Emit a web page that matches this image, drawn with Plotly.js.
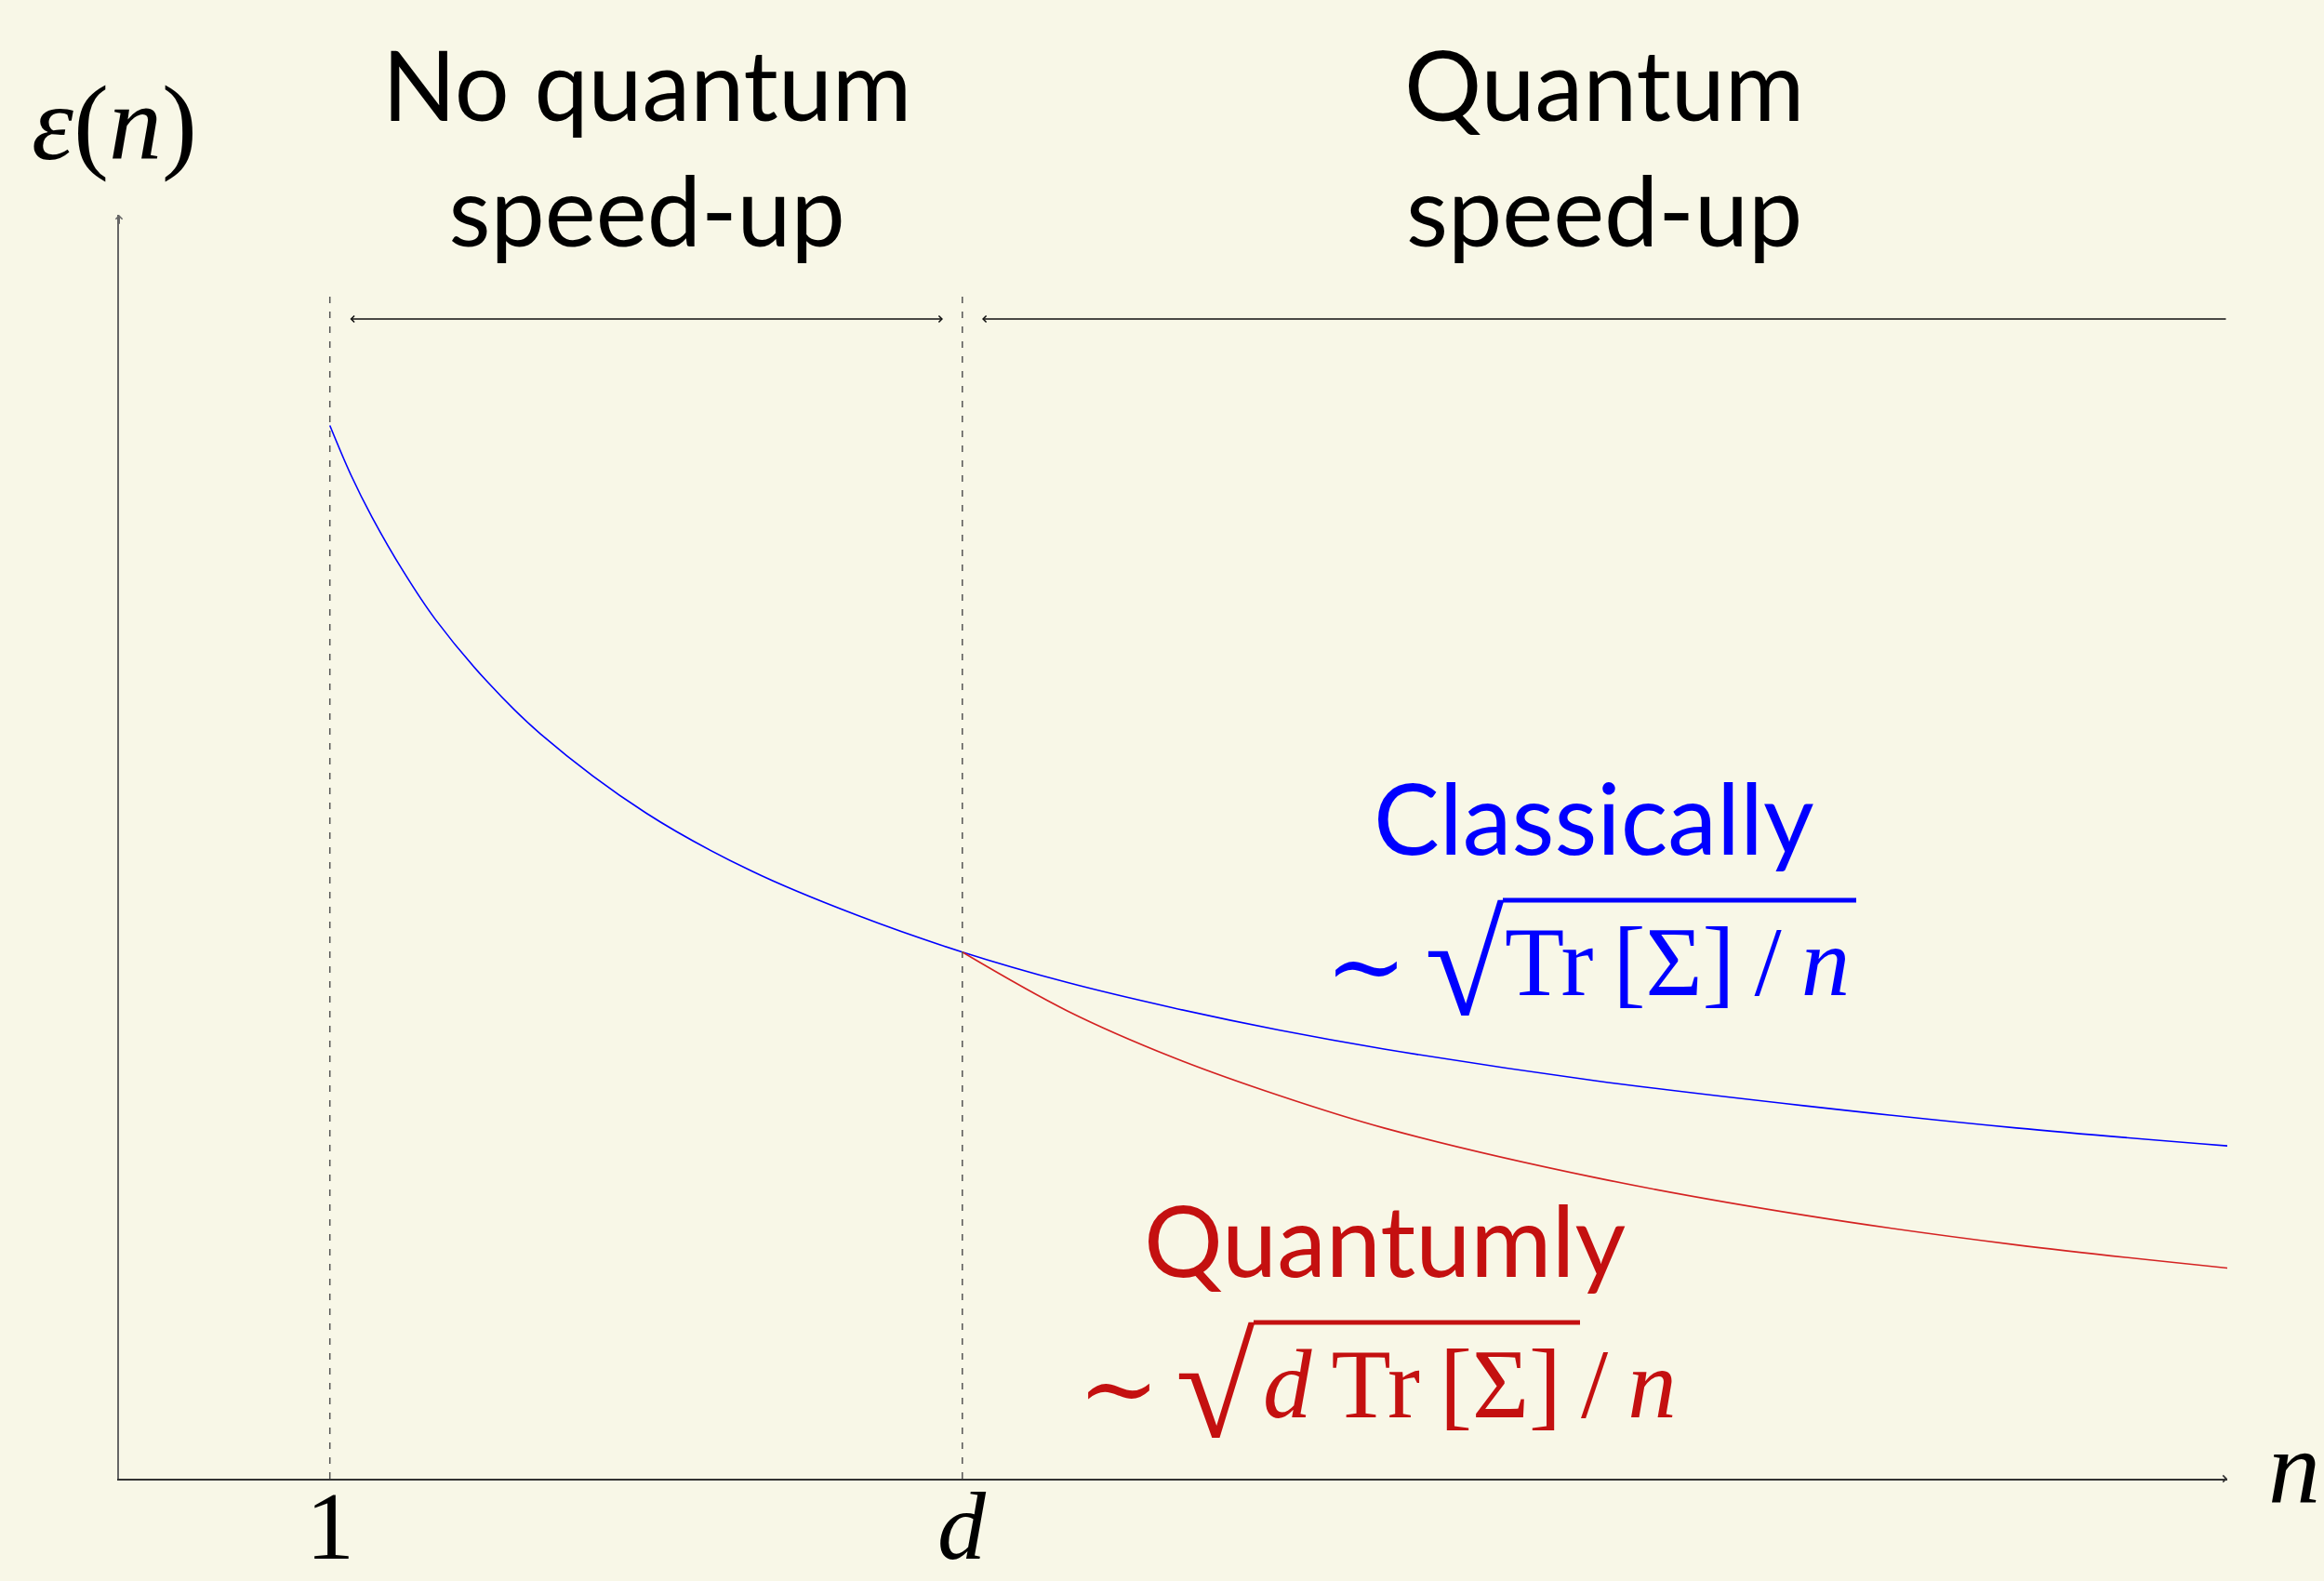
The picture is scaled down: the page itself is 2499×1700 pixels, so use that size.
<!DOCTYPE html>
<html>
<head>
<meta charset="utf-8">
<script src="https://cdn.plot.ly/plotly-3.0.1.min.js"></script>
<style>
  html, body { margin: 0; padding: 0; background: #f8f7e7; }
  #chart { width: 2499px; height: 1700px; }
</style>
</head>
<body>
<div id="chart"></div>
<script>
// Sample size n and the error epsilon(n) of the two estimators
const nClassical = [1, 1.1, 1.2, 1.35, 1.5, 1.75, 2, 2.5, 3, 3.5, 4, 4.5, 5, 5.5, 6, 7, 8, 9, 10];
const epsClassical = [1.000, 0.953, 0.913, 0.861, 0.816, 0.756, 0.707, 0.632, 0.577, 0.535,
                      0.500, 0.471, 0.447, 0.426, 0.408, 0.378, 0.354, 0.333, 0.316];
const nQuantum = [4, 4.5, 5, 5.5, 6, 7, 8, 9, 10];
const epsQuantum = [0.500, 0.444, 0.400, 0.364, 0.333, 0.286, 0.250, 0.222, 0.200];

// Regime boundaries on the n axis and their labels
const boundaryN = [1, 4];
const boundaryLabels = ['1', '<i>d</i>'];
const nMax = 10;
const epsMax = 1.2;

// Page geometry (pixels)
const W = 2499, H = 1700;
const M = { l: 128, r: 104, t: 231, b: 110 };
const PW = W - M.l - M.r, PH = H - M.t - M.b;
const px = x => (x - M.l) / PW;          // pixel x -> paper x
const py = y => (H - M.b - y) / PH;      // pixel y -> paper y
const dataX = x => (x - M.l) / PW * nMax;
const dataY = y => (H - M.b - y) / PH * epsMax;

const BG = '#f8f7e7';
const BLUE = '#0000ff';
const RED_TEXT = '#c41010';
const RED_LINE = '#d42222';
const SANS = 'Lato, "Open Sans", sans-serif';
const SERIF = '"Liberation Serif", "DejaVu Serif", serif';

const traces = [
  {
    x: nClassical, y: epsClassical, type: 'scatter', mode: 'lines',
    line: { color: BLUE, width: 1.6, shape: 'spline', smoothing: 1 },
    hoverinfo: 'skip', showlegend: false
  },
  {
    x: nQuantum, y: epsQuantum, type: 'scatter', mode: 'lines',
    line: { color: RED_LINE, width: 1.6, shape: 'spline', smoothing: 1 },
    hoverinfo: 'skip', showlegend: false
  }
];

// Dashed guides at the regime boundaries
const guideTop = dataY(319);
const shapes = boundaryN.map(n => ({
  type: 'line', xref: 'x', yref: 'y', x0: n, x1: n, y0: 0, y1: guideTop,
  line: { color: '#555555', width: 1.5, dash: '7px,9px' }
}));

// Overbars of the square roots
shapes.push(
  { type: 'line', xref: 'paper', yref: 'paper', x0: px(1616), x1: px(1996), y0: py(968), y1: py(968),
    line: { color: BLUE, width: 5 } },
  { type: 'line', xref: 'paper', yref: 'paper', x0: px(1348), x1: px(1699), y0: py(1422), y1: py(1422),
    line: { color: RED_TEXT, width: 5 } }
);

const arrowBase = {
  xref: 'x', yref: 'y', axref: 'x', ayref: 'y', text: '', showarrow: true,
  arrowhead: 4, arrowsize: 0.9, arrowwidth: 1.5
};
const spanY = dataY(343);
const annotations = [
  // axis arrow tips
  Object.assign({}, arrowBase, { x: nMax, y: 0, ax: nMax - 0.02, ay: 0, arrowcolor: '#333333', arrowwidth: 2, arrowsize: 0.7 }),
  Object.assign({}, arrowBase, { x: 0, y: epsMax, ax: 0, ay: epsMax - 0.01, arrowcolor: '#666666', arrowwidth: 2, arrowsize: 0.7 }),
  // regime spans
  Object.assign({}, arrowBase, {
    x: dataX(1014), y: spanY, ax: dataX(375), ay: spanY, arrowcolor: '#111111',
    arrowside: 'end+start', startarrowhead: 4, startarrowsize: 0.9
  }),
  Object.assign({}, arrowBase, { x: dataX(1056), y: spanY, ax: nMax, ay: spanY, arrowcolor: '#111111' }),

  // regime headings
  { xref: 'paper', yref: 'paper', x: px(695), y: py(157), xanchor: 'center', yanchor: 'middle',
    showarrow: false, text: 'No quantum<br>speed-up', align: 'center',
    font: { family: SANS, size: 104, color: '#000000' } },
  { xref: 'paper', yref: 'paper', x: px(1725), y: py(157), xanchor: 'center', yanchor: 'middle',
    showarrow: false, text: 'Quantum<br>speed-up', align: 'center',
    font: { family: SANS, size: 104, color: '#000000' } },

  // axis titles
  { xref: 'paper', yref: 'paper', x: px(123), y: py(132), xanchor: 'center', yanchor: 'middle',
    showarrow: false, text: '<i>ε</i>(<i>n</i>)',
    font: { family: SERIF, size: 114, color: '#000000' } },
  { xref: 'paper', yref: 'paper', x: px(2467), y: py(1578), xanchor: 'center', yanchor: 'middle',
    showarrow: false, text: '<i>n</i>',
    font: { family: SERIF, size: 112, color: '#000000' } },

  // classical rate
  { xref: 'paper', yref: 'paper', x: px(1714), y: py(878), xanchor: 'center', yanchor: 'middle',
    showarrow: false, text: 'Classically',
    font: { family: SANS, size: 106, color: BLUE } },
  { xref: 'paper', yref: 'paper', x: px(1469), y: py(1039), xanchor: 'center', yanchor: 'middle',
    showarrow: false, text: '∼',
    font: { family: SERIF, size: 105, color: BLUE } },
  { xref: 'paper', yref: 'paper', x: px(1620), y: py(1038), xanchor: 'right', yanchor: 'middle',
    showarrow: false, text: '√',
    font: { family: SERIF, size: 156, color: BLUE } },
  { xref: 'paper', yref: 'paper', x: px(1616), y: py(1034), xanchor: 'left', yanchor: 'middle',
    showarrow: false, text: 'Tr\u2009[Σ]\u2009/\u2009<i>n</i>',
    font: { family: SERIF, size: 105, color: BLUE } },

  // quantum rate
  { xref: 'paper', yref: 'paper', x: px(1489), y: py(1332), xanchor: 'center', yanchor: 'middle',
    showarrow: false, text: 'Quantumly',
    font: { family: SANS, size: 106, color: RED_TEXT } },
  { xref: 'paper', yref: 'paper', x: px(1203), y: py(1493), xanchor: 'center', yanchor: 'middle',
    showarrow: false, text: '∼',
    font: { family: SERIF, size: 105, color: RED_TEXT } },
  { xref: 'paper', yref: 'paper', x: px(1352), y: py(1492), xanchor: 'right', yanchor: 'middle',
    showarrow: false, text: '√',
    font: { family: SERIF, size: 156, color: RED_TEXT } },
  { xref: 'paper', yref: 'paper', x: px(1356), y: py(1488), xanchor: 'left', yanchor: 'middle',
    showarrow: false, text: '<i>d</i>\u2009Tr\u2009[Σ]\u2009/\u2009<i>n</i>',
    font: { family: SERIF, size: 105, color: RED_TEXT } }
];

// Tick labels at the regime boundaries, kept inside the page edge
boundaryN.forEach((n, i) => {
  annotations.push({
    xref: 'x', yref: 'paper', x: n, y: py(1640), xanchor: 'center', yanchor: 'middle',
    showarrow: false, text: boundaryLabels[i], borderpad: 0,
    font: { family: SERIF, size: 104, color: '#000000' }
  });
});

const layout = {
  width: W, height: H,
  margin: M,
  paper_bgcolor: BG, plot_bgcolor: BG,
  showlegend: false,
  xaxis: {
    range: [0, nMax], showgrid: false, zeroline: false, showticklabels: false, ticks: '',
    showline: true, linecolor: '#333333', linewidth: 2, fixedrange: true
  },
  yaxis: {
    range: [0, epsMax], showgrid: false, zeroline: false, showticklabels: false, ticks: '',
    showline: true, linecolor: '#666666', linewidth: 2, fixedrange: true
  },
  shapes: shapes,
  annotations: annotations
};

Plotly.newPlot('chart', traces, layout, { staticPlot: true, displayModeBar: false });
</script>
</body>
</html>
